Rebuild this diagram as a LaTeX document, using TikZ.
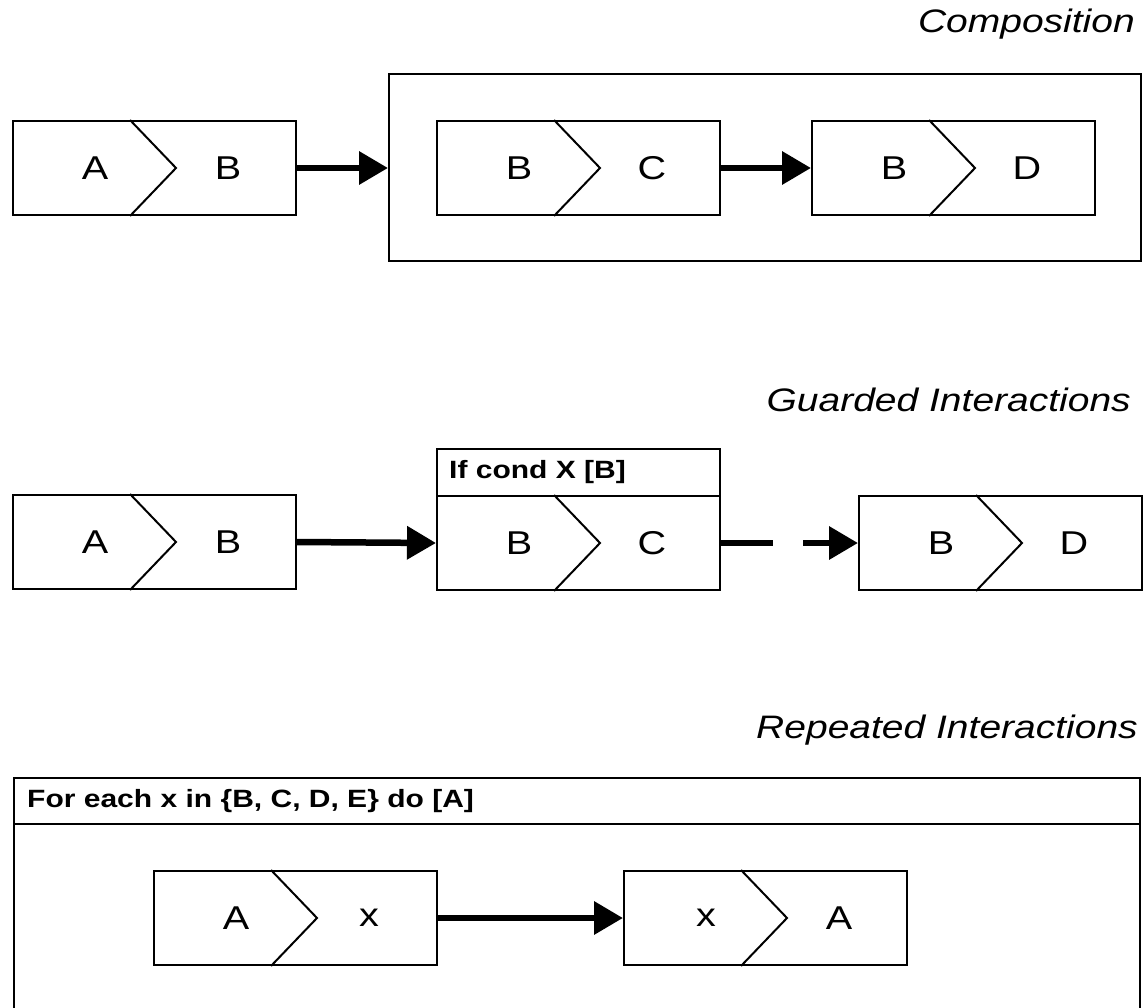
\documentclass[tikz,border=0pt]{standalone}
\usepackage{fontspec}
\setmainfont{Liberation Sans}[FakeStretch=1.2]
\usetikzlibrary{arrows.meta}
\tikzset{
  cbox/.style={draw, line width=2pt, rectangle, inner sep=0pt, minimum width=283pt, minimum height=94pt, anchor=north west},
  chev/.style={line width=2pt},
  lbl/.style={font=\fontsize{33}{39}\selectfont, inner sep=0pt},
  ttl/.style={font=\fontsize{32.5}{38}\selectfont\itshape, anchor=east, inner sep=0pt},
  hdrtxt/.style={font=\fontsize{25}{30}\selectfont\bfseries, anchor=west, inner sep=0pt},
  frame/.style={draw, line width=2pt, rectangle, inner sep=0pt, anchor=north west},
  conn/.style={line width=6.5pt, -{Triangle[length=29pt,width=32pt]}},
}
\newcommand{\chbox}[5]{%
  \node[cbox] (#1) at (#2,#3) {};
  \draw[chev] ([xshift=118pt]#1.north west) -- ([xshift=164pt]#1.west) -- ([xshift=118pt]#1.south west);
  \node[lbl] (#1-l) at ([xshift=83pt]#1.west) {#4};
  \node[lbl] (#1-r) at ([xshift=216pt]#1.west) {#5};
}
\begin{document}
\begin{tikzpicture}[x=1pt,y=-1pt]
\useasboundingbox (0,0) rectangle (1145,1008);
\clip (0,0) rectangle (1145,1008);
\fill[white] (0,0) rectangle (1145,1008);

% Row 1: Composition
\node[ttl] (t1) at (1135,24) {Composition};
\chbox{ab1}{12}{120}{A}{B}
\node[frame, minimum width=752pt, minimum height=187pt] (comp) at (388,73) {};
\chbox{bc1}{436}{120}{B}{C}
\chbox{bd1}{811}{120}{B}{D}
\draw[conn] (ab1.east) -- (comp.west |- ab1.east);
\draw[conn] (bc1.east) -- (bd1.west);

% Row 2: Guarded Interactions
\node[ttl] (t2) at (1131,400) {Guarded Interactions};
\chbox{ab2}{12}{494}{A}{B}
\node[frame, minimum width=283pt, minimum height=47pt] (hdr) at (436,448) {};
\node[hdrtxt] (hdrt) at ([xshift=13pt]hdr.west) {If cond X [B]};
\chbox{bc2}{436}{495}{B}{C}
\chbox{bd2}{858}{495}{B}{D}
\draw[conn] (ab2.east) -- (bc2.west);
\draw[conn, dash pattern=on 52pt off 30pt] (bc2.east) -- (bd2.west);

% Row 3: Repeated Interactions
\node[ttl] (t3) at (1138,730) {Repeated Interactions};
\node[frame, minimum width=1126pt, minimum height=46pt] (rephdr) at (13,777) {};
\node[hdrtxt] (rept) at ([xshift=14pt]rephdr.west) {For each x in \{B, C, D, E\} do [A]};
\node[frame, minimum width=1126pt, minimum height=260pt] (rep) at (13,823) {};
\chbox{ax}{153}{870}{A}{x}
\chbox{xa}{623}{870}{x}{A}
\draw[conn] (ax.east) -- (xa.west);
\end{tikzpicture}
\end{document}
